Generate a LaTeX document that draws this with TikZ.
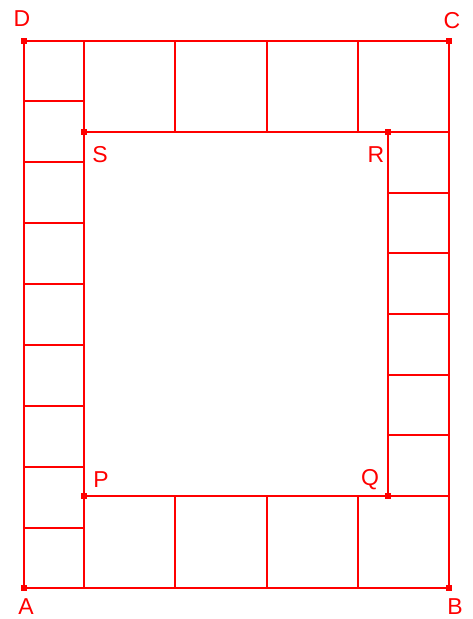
\documentclass[tikz,border=0pt]{standalone}
\usepackage{fontspec}
\setmainfont{Liberation Sans}
\usepackage{tikz}
\usetikzlibrary{calc}
\def\dotat(#1){\fill[red] ($(#1)+(-3,-3)$) rectangle ($(#1)+(3,3)$);}

\begin{document}
\begin{tikzpicture}[x=1pt,y=-1pt,
	edge/.style={draw=red,line width=2pt},
	lbl/.style={text=red,font=\fontsize{23}{25}\selectfont,inner sep=0pt}]
		%%%%% START %%%%%
		\useasboundingbox (0,0) rectangle (472,619);
		
		\coordinate (A) at (24, 588);
		\coordinate (B) at (449, 588);
		\coordinate (C) at (449, 40.5);
		\coordinate (D) at (24, 40.5);
		\coordinate (P) at (84, 496);
		\coordinate (Q) at (388, 496);
		\coordinate (R) at (388, 132);
		\coordinate (S) at (84, 132);
		
		% outer and inner frame
		\draw[edge] (A) -- (B) -- (C) -- (D) -- cycle;
		\draw[edge] (P) -- (Q) -- (R) -- (S) -- cycle;
		\draw[edge] (S) -- (S |- D);
		\draw[edge] (P) -- (P |- A);
		\draw[edge] (R) -- (R -| C);
		\draw[edge] (Q) -- (Q -| B);
		
		% left strip
		\foreach \k in {1,...,8}
			\draw[edge] (24, {40.5+\k*60.9}) -- (84, {40.5+\k*60.9});
		
		% right strip
		\foreach \k in {1,...,5}
			\draw[edge] (388, {132+\k*60.67}) -- (449, {132+\k*60.67});
		
		% top and bottom strips
		\foreach \k in {1,2,3} {
			\draw[edge] ({84+\k*91.25}, 40.5) -- ({84+\k*91.25}, 132);
			\draw[edge] ({84+\k*91.25}, 496) -- ({84+\k*91.25}, 588);
		}
		
		\dotat(A) \dotat(B) \dotat(C) \dotat(D)
		\dotat(P) \dotat(Q) \dotat(R) \dotat(S)
		
		\node[lbl] (labA) at (26, 606.5) {A};
		\node[lbl] (labB) at (455, 606.5) {B};
		\node[lbl] (labC) at (452, 21) {C};
		\node[lbl] (labD) at (22, 19) {D};
		\node[lbl] (labP) at (101, 480) {P};
		\node[lbl] (labQ) at (370, 480) {Q};
		\node[lbl] (labR) at (376, 155) {R};
		\node[lbl] (labS) at (100, 155) {S};
		
		%%%%% END %%%%%
\end{tikzpicture}
\end{document}
